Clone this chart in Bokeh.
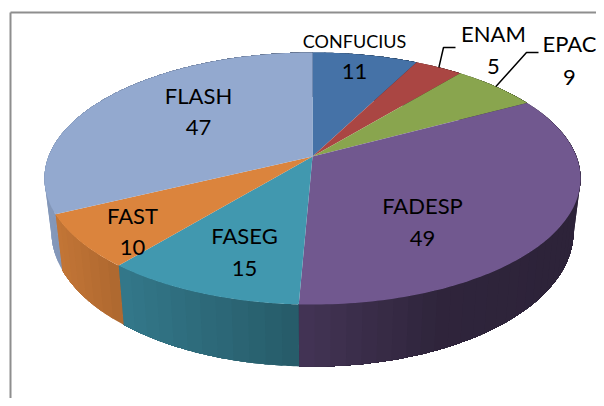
import numpy as np
from bokeh.plotting import figure
from bokeh.embed import file_html
from bokeh.resources import INLINE
from bokeh.core.properties import value

categories = ["CONFUCIUS", "ENAM", "EPAC", "FADESP", "FASEG", "FAST", "FLASH"]
values = [11, 5, 9, 49, 15, 10, 47]
colors = ["#4572A7", "#AA4643", "#89A54E", "#71588F", "#4198AF", "#DB843D", "#93A9CF"]

label_x = [354, 493, 569, 422, 244, 132, 198]
name_y = [40, 33, 43, 205, 235, 215, 95]
value_y = [71, 66, 77, 238, 268, 247, 127]
name_size = ["18px", "22px", "22px", "22px", "22px", "22px", "22px"]

CX, CY, A, B, K = 312.0, 156.0, 263.9, 122.2, 0.1746
FRONT_H, BOTTOM_SX, BOTTOM_SY = 62.0, 0.974, 1.07
FRONT_Y = 304.0
DEPTH_Y = FRONT_Y + FRONT_H


def rim(theta):
    u, v = np.sin(theta), np.cos(theta)
    w = 1 + K * v
    return CX + A * u / w, CY - B * v / w


def rim_bottom(theta):
    x, y = rim(theta)
    return CX + BOTTOM_SX * (x - CX), DEPTH_Y - BOTTOM_SY * (FRONT_Y - y)


def shade(x):
    return np.interp(x, [50, 120, 298, 440, 580], [0.9, 0.79, 0.60, 0.42, 0.40])


def mix(hex_color, f):
    r, g, b = [int(hex_color[i:i + 2], 16) for i in (1, 3, 5)]
    return "#%02x%02x%02x" % (int(r * f), int(g * f), int(b * f))


p = figure(width=596, height=398, x_range=(0, 596), y_range=(398, 0),
           toolbar_location=None, output_backend="svg", min_border=0,
           outline_line_color=None)
p.axis.visible = False
p.grid.visible = False

# chart frame
p.line([10, 10], [398, 12], line_color="#8E8E8E", line_width=2)
p.line([10, 596], [12, 12], line_color="#8E8E8E", line_width=2)

edges = np.cumsum([0] + values) / sum(values) * 2 * np.pi

# side walls: overlapping bands, each running to the slice's end, darkening along x
for i, col in enumerate(colors):
    start, stop = edges[i], edges[i + 1]
    n = max(2, int((stop - start) / 0.05))
    t = np.linspace(start, stop, 6 * n + 1)
    for j in range(0, 6 * n, 6):
        tail = t[j:]
        x_top, y_top = rim(tail)
        x_bot, y_bot = rim_bottom(tail[::-1])
        c = mix(col, shade((x_top[0] + x_top[6]) / 2))
        p.patch(np.r_[x_top, x_bot], np.r_[y_top, y_bot], fill_color=c, line_color=None)

# top faces
for i, col in enumerate(colors):
    t = np.linspace(edges[i], edges[i + 1], 120)
    x, y = rim(t)
    p.patch(np.r_[CX, x], np.r_[CY, y], fill_color=col, line_color=None)

# leader lines for the two thin slices
for idx, elbow_x, elbow_y, end_x in [(1, 443, 47, 455), (2, 526, 52, 538)]:
    sx, sy = rim((edges[idx] + edges[idx + 1]) / 2)
    p.line([sx, elbow_x, end_x], [sy, elbow_y, elbow_y], line_color="black", line_width=1.5)

for i, cat in enumerate(categories):
    p.text([label_x[i]], [name_y[i]], text=[cat], text_align="center", text_baseline="middle",
           text_font=value("Lato"), text_font_size=name_size[i], text_color="black")
    p.text([label_x[i]], [value_y[i]], text=[str(values[i])], text_align="center", text_baseline="middle",
           text_font=value("Lato"), text_font_size="22px", text_color="black")

open("out.html", "w").write(file_html(p, INLINE))
